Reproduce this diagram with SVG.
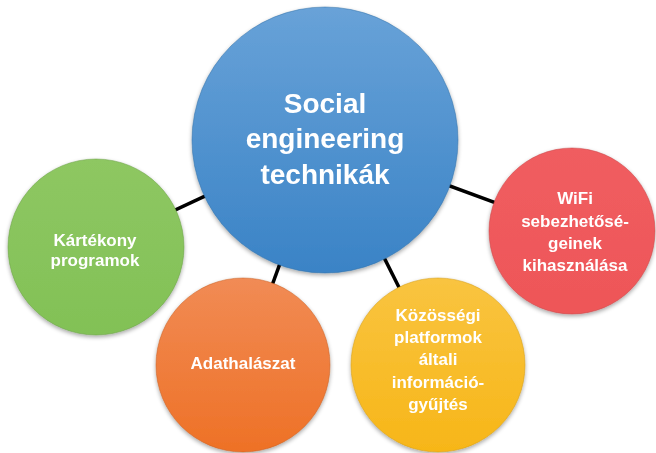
<svg xmlns="http://www.w3.org/2000/svg" width="656" height="453" viewBox="0 0 656 453">
<style>
  .lbl{font-family:"Liberation Sans",Arial,sans-serif;font-weight:bold;fill:#ffffff;text-anchor:middle;}
  .big{font-size:28px;}
  .sm{font-size:17px;}
  .conn{stroke:#000000;stroke-width:3.5;fill:none;}
  .edge{stroke-width:1;stroke-opacity:0.5;}
</style>
<defs>
  <linearGradient id="gBlue" x1="0" y1="0" x2="0" y2="1">
    <stop offset="0" stop-color="#68a2d8"/>
    <stop offset="1" stop-color="#3a83c6"/>
  </linearGradient>
  <linearGradient id="gGreen" x1="0" y1="0" x2="0" y2="1">
    <stop offset="0" stop-color="#8ec762"/>
    <stop offset="1" stop-color="#82c156"/>
  </linearGradient>
  <linearGradient id="gOrange" x1="0" y1="0" x2="0" y2="1">
    <stop offset="0" stop-color="#f18b55"/>
    <stop offset="1" stop-color="#ee7126"/>
  </linearGradient>
  <linearGradient id="gYellow" x1="0" y1="0" x2="0" y2="1">
    <stop offset="0" stop-color="#f9c440"/>
    <stop offset="1" stop-color="#f7b618"/>
  </linearGradient>
  <linearGradient id="gRed" x1="0" y1="0" x2="0" y2="1">
    <stop offset="0" stop-color="#f05d60"/>
    <stop offset="1" stop-color="#ee5658"/>
  </linearGradient>
  <filter id="sh" x="-10%" y="-10%" width="120%" height="125%">
    <feGaussianBlur in="SourceAlpha" stdDeviation="2"/>
    <feOffset dx="0" dy="2" result="b"/>
    <feComponentTransfer><feFuncA type="linear" slope="0.35"/></feComponentTransfer>
    <feMerge><feMergeNode/><feMergeNode in="SourceGraphic"/></feMerge>
  </filter>
</defs>
<rect width="656" height="453" fill="#ffffff"/>
<g id="connectors">
  <line class="conn" x1="325" y1="140" x2="96" y2="247"/>
  <line class="conn" x1="325" y1="140" x2="243" y2="365"/>
  <line class="conn" x1="325" y1="140" x2="438" y2="365"/>
  <line class="conn" x1="325" y1="140" x2="572" y2="231"/>
</g>
<g id="node-center" filter="url(#sh)">
  <circle cx="325" cy="140" r="133" fill="url(#gBlue)" class="edge" stroke="#2f6fa8"/>
  <text class="lbl big" x="325" y="113">Social</text>
  <text class="lbl big" x="325" y="148">engineering</text>
  <text class="lbl big" x="325" y="184">technikák</text>
</g>
<g id="node-kartekony" filter="url(#sh)">
  <circle cx="96" cy="247" r="88" fill="url(#gGreen)" class="edge" stroke="#6a9f45"/>
  <text class="lbl sm" x="95" y="246">Kártékony</text>
  <text class="lbl sm" x="95" y="266">programok</text>
</g>
<g id="node-adathalaszat" filter="url(#sh)">
  <circle cx="243" cy="365" r="87" fill="url(#gOrange)" class="edge" stroke="#c85e20"/>
  <text class="lbl sm" x="243" y="369">Adathalászat</text>
</g>
<g id="node-kozossegi" filter="url(#sh)">
  <circle cx="438" cy="365" r="87" fill="url(#gYellow)" class="edge" stroke="#d39b14"/>
  <text class="lbl sm" x="438" y="321">Közösségi</text>
  <text class="lbl sm" x="438" y="343">platformok</text>
  <text class="lbl sm" x="438" y="365">általi</text>
  <text class="lbl sm" x="438" y="388">információ-</text>
  <text class="lbl sm" x="438" y="410">gyűjtés</text>
</g>
<g id="node-wifi" filter="url(#sh)">
  <circle cx="572" cy="231" r="83" fill="url(#gRed)" class="edge" stroke="#c84548"/>
  <text class="lbl sm" x="575" y="204">WiFi</text>
  <text class="lbl sm" x="575" y="227">sebezhetősé-</text>
  <text class="lbl sm" x="575" y="249">geinek</text>
  <text class="lbl sm" x="575" y="271">kihasználása</text>
</g>
</svg>
